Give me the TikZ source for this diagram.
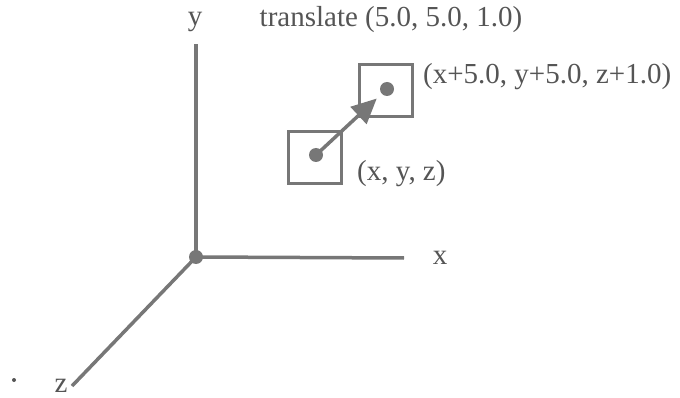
\documentclass[tikz,border=0pt]{standalone}
\usepackage{fontspec}
\setmainfont{Liberation Serif}
\usetikzlibrary{arrows.meta}
\definecolor{axisgray}{HTML}{777777}
\definecolor{txtgray}{HTML}{555555}
\tikzset{
  axisline/.style={draw=axisgray,line width=3.5pt},
  posbox/.style={draw=axisgray,line width=3pt,minimum width=53pt,minimum height=52pt,inner sep=0pt},
  dotmark/.style={circle,fill=axisgray,inner sep=0pt,minimum size=14pt},
  lbl/.style={text=txtgray,font=\fontsize{29}{33}\selectfont,inner sep=0pt}
}
\begin{document}
\begin{tikzpicture}[x=1pt,y=-1pt]
\useasboundingbox (0,0) rectangle (680,398);
\node[dotmark] (o) at (196,257) {};
\coordinate (ytip) at (196,44);
\coordinate (xtip) at (404,258);
\coordinate (ztip) at (72,386);
\draw[axisline] (o.center) -- (ytip);
\draw[axisline] (o.center) -- (xtip);
\draw[axisline] (o.center) -- (ztip);
\node[lbl] (ylab) at (195,22) {y};
\node[lbl] (xlab) at (440,258) {x};
\node[lbl] (zlab) at (61,386) {z};
\node[circle,fill=txtgray,inner sep=0pt,minimum size=4pt] (stray) at (14,380) {};
\node[lbl] (title) at (391,20) {translate (5.0, 5.0, 1.0)};
\node[posbox] (b1) at (315,157.5) {};
\node[posbox] (b2) at (386,90.5) {};
\node[dotmark] (d1) at (316,155) {};
\node[dotmark] (d2) at (387,89) {};
\draw[draw=axisgray,line width=3.5pt,-{Triangle[length=25pt,width=23pt]},shorten >=14pt] (d1.center) -- (d2.center);
\node[lbl,anchor=west] (l2) at (423,77) {(x+5.0, y+5.0, z+1.0)};
\node[lbl,anchor=west] (l1) at (357,174) {(x, y, z)};
\end{tikzpicture}
\end{document}
